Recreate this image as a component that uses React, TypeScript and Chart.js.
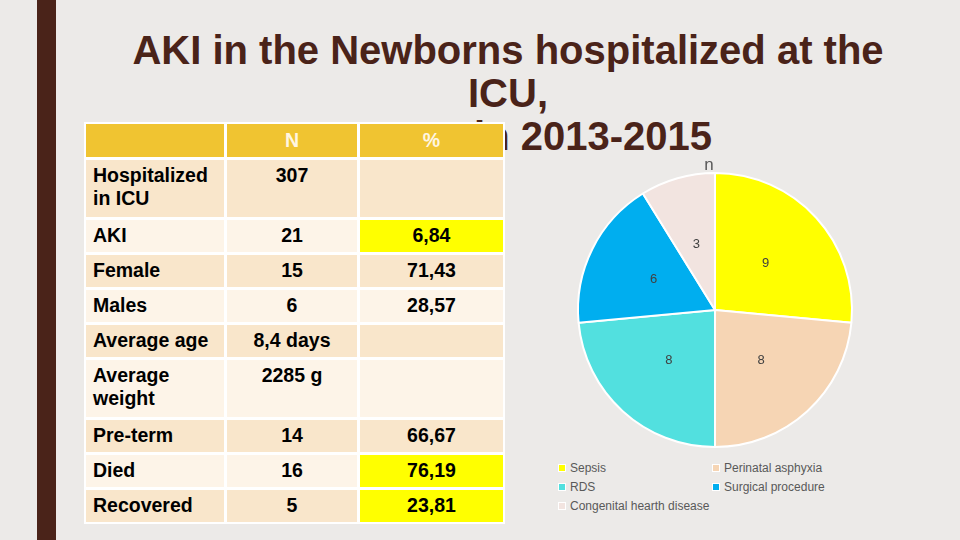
import React, { useEffect, useRef } from "react";
import { Chart, registerables } from "chart.js";

Chart.register(...registerables);

// ---- Pie data ----
const causes = ["Sepsis", "Perinatal asphyxia", "RDS", "Surgical procedure", "Congenital hearth disease"];
const causeCounts = [9, 8, 8, 6, 3];
const causeColors = ["#FFFF00", "#F6D5B4", "#52E0DF", "#00AEEF", "#F2E4E0"];
const pieTitle = "n";

// ---- Table data ----
const tableHeader = ["", "N", "%"];
const rowLabels = ["Hospitalized in ICU", "AKI", "Female", "Males", "Average age", "Average weight", "Pre-term", "Died", "Recovered"];
const nValues = ["307", "21", "15", "6", "8,4 days", "2285 g", "14", "16", "5"];
const pctValues = ["", "6,84", "71,43", "28,57", "", "", "66,67", "76,19", "23,81"];
const pctHighlight = [false, true, false, false, false, false, false, true, true];
const rowHeights = [57, 32, 32, 32, 32, 57, 32, 32, 32];

const titleLines = ["AKI in the Newborns hospitalized at the", "ICU,", "in 2013-2015"];

const BG = "#ECEAE8";
const BROWN = "#4A2319";

const labelPlugin = {
  id: "sliceLabels",
  afterDatasetsDraw(chart: any) {
    const ctx = chart.ctx;
    const meta = chart.getDatasetMeta(0);
    ctx.save();
    ctx.font = "13px 'Liberation Sans', Arial, sans-serif";
    ctx.fillStyle = "#404040";
    ctx.textAlign = "center";
    ctx.textBaseline = "middle";
    meta.data.forEach((arc: any, i: number) => {
      const p = arc.tooltipPosition();
      ctx.fillText(String(chart.data.datasets[0].data[i]), p.x, p.y);
    });
    // chart title "n" just above the pie
    const ca = chart.chartArea;
    ctx.font = "17px 'Liberation Sans', Arial, sans-serif";
    ctx.fillStyle = "#595959";
    ctx.textBaseline = "alphabetic";
    ctx.fillText(pieTitle, (ca.left + ca.right) / 2 - 6, ca.top - 2);
    ctx.restore();
  },
};

function PieChart() {
  const ref = useRef<HTMLCanvasElement | null>(null);
  useEffect(() => {
    if (!ref.current) return;
    const chart = new Chart(ref.current, {
      type: "pie",
      data: {
        labels: causes,
        datasets: [
          {
            data: causeCounts,
            backgroundColor: causeColors,
            borderColor: "#FFFFFF",
            borderWidth: 2,
            hoverBorderWidth: 2,
          },
        ],
      },
      options: {
        animation: false,
        responsive: false,
        maintainAspectRatio: false,
        layout: { padding: { left: 12, right: 12, top: 24, bottom: 12 } },
        plugins: {
          legend: { display: false },
          tooltip: { enabled: false },
          title: { display: false },
        },
      },
      plugins: [labelPlugin],
    });
    return () => chart.destroy();
  }, []);
  return (
    <canvas
      ref={ref}
      width={300}
      height={312}
      style={{ position: "absolute", left: 565, top: 148, width: 300, height: 312 }}
    />
  );
}

export default function App() {
  const font = "'Liberation Sans', Arial, sans-serif";
  const cellBase: React.CSSProperties = {
    boxSizing: "border-box",
    paddingTop: 4,
    lineHeight: "23px",
    fontSize: 19.5,
    fontWeight: "bold",
    color: "#000",
    fontFamily: font,
  };
  return (
    <div
      style={{
        position: "fixed",
        left: 0,
        top: 0,
        width: 960,
        height: 540,
        background: BG,
        overflow: "hidden",
        fontFamily: font,
      }}
    >
      <div style={{ position: "absolute", left: 37, top: 0, width: 19, height: 540, background: BROWN }} />
      {/* Title */}
      <div
        style={{
          position: "absolute",
          left: 58,
          width: 900,
          top: 29,
          textAlign: "center",
          fontSize: 40,
          fontWeight: "bold",
          color: BROWN,
          lineHeight: "43px",
          whiteSpace: "nowrap",
        }}
      >
        <div>{titleLines[0]}</div>
        <div>{titleLines[1]}</div>
      </div>
      <div
        style={{
          position: "absolute",
          right: 248,
          top: 117,
          fontSize: 40,
          fontWeight: "bold",
          color: BROWN,
          lineHeight: "39px",
          whiteSpace: "nowrap",
        }}
      >
        {titleLines[2]}
      </div>

      {/* Table */}
      <div
        style={{
          position: "absolute",
          left: 84,
          top: 122,
          padding: 2,
          background: "#FFFFFF",
          display: "grid",
          gridTemplateColumns: "138px 130px 143px",
          gridTemplateRows: [33, ...rowHeights].map((h) => h + "px").join(" "),
          gap: 3,
        }}
      >
        {tableHeader.map((h, i) => (
          <div
            key={"h" + i}
            style={{ ...cellBase, background: "#F0C431", color: "#FFF6E2", textAlign: "center", paddingTop: 5 }}
          >
            {h}
          </div>
        ))}
        {rowLabels.map((lab, r) => {
          const bg = r % 2 === 0 ? "#F9E6CB" : "#FDF4E8";
          return (
            <React.Fragment key={"r" + r}>
              <div style={{ ...cellBase, background: bg, paddingLeft: 7, paddingRight: 4 }}>{lab}</div>
              <div style={{ ...cellBase, background: bg, textAlign: "center" }}>{nValues[r]}</div>
              <div style={{ ...cellBase, background: pctHighlight[r] ? "#FFFF00" : bg, textAlign: "center" }}>
                {pctValues[r]}
              </div>
            </React.Fragment>
          );
        })}
      </div>

      <PieChart />

      {/* Legend */}
      {causes.map((c, i) => {
        const col = i % 2;
        const row = Math.floor(i / 2);
        return (
          <div
            key={c}
            style={{
              position: "absolute",
              left: col === 0 ? 558 : 712,
              top: 460 + row * 19,
              height: 16,
              display: "flex",
              alignItems: "center",
              fontSize: 12,
              color: "#595959",
              whiteSpace: "nowrap",
            }}
          >
            <span
              style={{
                display: "inline-block",
                width: 6,
                height: 6,
                background: causeColors[i],
                border: "1px solid #FFFFFF",
                marginRight: 4,
              }}
            />
            {c}
          </div>
        );
      })}
    </div>
  );
}
